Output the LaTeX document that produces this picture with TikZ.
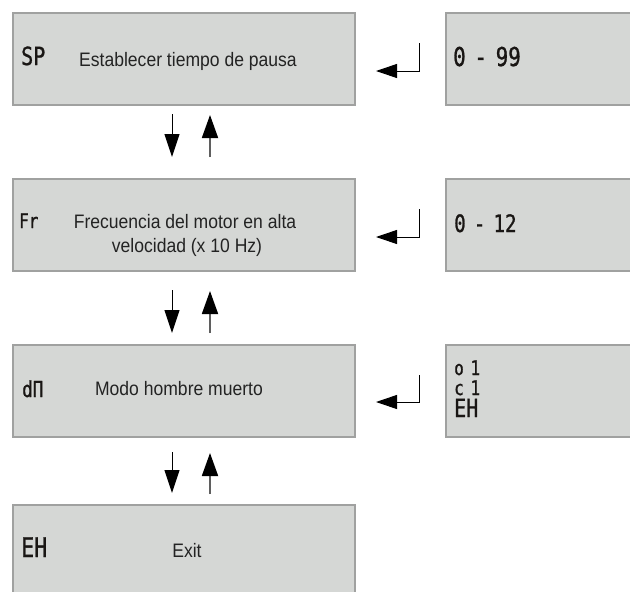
\documentclass[tikz,border=0pt]{standalone}
\usepackage{fontspec}
\usetikzlibrary{arrows.meta}
\newfontfamily\txtfont[FakeStretch=0.9]{Liberation Sans}
\newfontfamily\segfont[FakeStretch=0.8,WordSpace=0.7,FakeBold=1]{DejaVu Sans Mono}
\definecolor{boxfill}{RGB}{213,215,213}
\definecolor{boxline}{RGB}{160,161,160}
\definecolor{ink}{RGB}{35,35,35}
\definecolor{segink}{RGB}{25,22,20}
\definecolor{upgray}{RGB}{95,95,95}
\begin{document}
\begin{tikzpicture}[x=1pt,y=-1pt,
  lcdbox/.style={draw=boxline, fill=boxfill, line width=1.5pt, inner sep=0pt, anchor=north west, minimum height=92pt},
  lbl/.style={inner sep=0pt, text=ink, anchor=base, font=\txtfont\fontsize{19.5}{23}\selectfont},
  seg/.style={inner sep=0pt, text=segink, anchor=base west, text depth=0pt, font={\segfont\fontsize{#1}{#1}\selectfont}},
  downarr/.style={draw=black, line width=1pt, -{Triangle[length=23pt,width=15pt]}},
  uparr/.style={draw=upgray, line width=1.8pt, -{Triangle[length=23pt,width=16pt,color=black]}},
  retarr/.style={draw=black, line width=1pt, -{Triangle[length=21pt,width=14pt]}}
]
\useasboundingbox (0,0) rectangle (630,592);
\clip (0,0) rectangle (630,592);

% boxes
\node[lcdbox, minimum width=342pt] (b1) at (12,12) {};
\node[lcdbox, minimum width=250pt] (r1) at (445,12) {};
\node[lcdbox, minimum width=342pt] (b2) at (12,178) {};
\node[lcdbox, minimum width=250pt] (r2) at (445,178) {};
\node[lcdbox, minimum width=342pt] (b3) at (12,344) {};
\node[lcdbox, minimum width=250pt] (r3) at (445,344) {};
\node[lcdbox, minimum width=342pt] (b4) at (12,504) {};

% texts
\node[seg=25] (sp) at (21,65) {SP};
\node[lbl] (t1) at (188,66) {Establecer tiempo de pausa};
\node[seg=26] (v1) at (453,66) {0 - 99};

\node[seg=20] (fr) at (19,228) {Fr};
\node[lbl] (t2a) at (185,228) {Frecuencia del motor en alta};
\node[lbl] (t2b) at (187,252) {velocidad (x 10 Hz)};
\node[seg=24] (v2) at (454,232) {0 - 12};

\node[seg=22] (dn) at (22,397) {dП};
\node[lbl] (t3) at (179,395) {Modo hombre muerto};
\node[seg=20] (v3a) at (454,375) {o 1};
\node[seg=20] (v3b) at (454,395) {c 1};
\node[seg=25] (v3c) at (454,417) {EH};

\node[seg=27] (eh) at (21,557) {EH};
\node[lbl] (t4) at (187,557) {Exit};

% vertical arrow end points
\coordinate (d1s) at (172,114); \coordinate (d1e) at (172,157);
\coordinate (u1s) at (210,157); \coordinate (u1e) at (210,115);
\coordinate (d2s) at (172,290); \coordinate (d2e) at (172,333);
\coordinate (u2s) at (210,333); \coordinate (u2e) at (210,291);
\coordinate (d3s) at (172,452); \coordinate (d3e) at (172,493);
\coordinate (u3s) at (210,494); \coordinate (u3e) at (210,453);

\draw[downarr] (d1s) -- (d1e);
\draw[uparr] (u1s) -- (u1e);
\draw[downarr] (d2s) -- (d2e);
\draw[uparr] (u2s) -- (u2e);
\draw[downarr] (d3s) -- (d3e);
\draw[uparr] (u3s) -- (u3e);

% return arrows
\coordinate (k1) at (419,43); \coordinate (c1) at (419,71); \coordinate (e1) at (376,71);
\coordinate (k2) at (419,209); \coordinate (c2) at (419,237); \coordinate (e2) at (376,237);
\coordinate (k3) at (419,375); \coordinate (c3) at (419,402); \coordinate (e3) at (376,402);
\draw[retarr] (k1) -- (c1) -- (e1);
\draw[retarr] (k2) -- (c2) -- (e2);
\draw[retarr] (k3) -- (c3) -- (e3);
\end{tikzpicture}
\end{document}
